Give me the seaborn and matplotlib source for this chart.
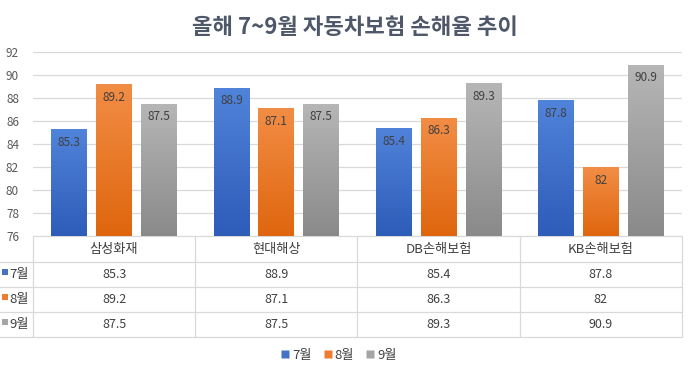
import numpy as np
import pandas as pd
import matplotlib
matplotlib.use("Agg")
import matplotlib.pyplot as plt
import seaborn as sns
from matplotlib.colors import LinearSegmentedColormap
from matplotlib.patches import Rectangle
from matplotlib.lines import Line2D

title = "올해 7~9월 자동차보험 손해율 추이"
companies = ["삼성화재", "현대해상", "DB손해보험", "KB손해보험"]
months = ["7월", "8월", "9월"]
jul = [85.3, 88.9, 85.4, 87.8]
aug = [89.2, 87.1, 86.3, 82]
sep = [87.5, 87.5, 89.3, 90.9]
y_ticks = [76, 78, 80, 82, 84, 86, 88, 90, 92]

base_colors = ["#4472C4", "#ED7D31", "#A5A5A5"]
grad_top = ["#5083DA", "#F28D45", "#B6B6B6"]
grad_bot = ["#2E5CB9", "#DF660E", "#8A8A8A"]

df = pd.DataFrame({
    "company": companies * 3,
    "month": [months[0]] * 4 + [months[1]] * 4 + [months[2]] * 4,
    "value": jul + aug + sep,
})

sns.set_theme(style="white")
plt.rcParams["font.family"] = ["Noto Sans CJK KR", "DejaVu Sans"]
plt.rcParams["axes.unicode_minus"] = False

W, H = 694, 376
fig = plt.figure(figsize=(W / 100, H / 100), dpi=100)
ax = fig.add_axes([33 / W, 1 - 236 / H, (682 - 33) / W, (236 - 52) / H])

sns.barplot(data=df, x="company", y="value", hue="month", order=companies,
            hue_order=months, palette=base_colors, width=0.83, gap=0.2,
            ax=ax, legend=False)

ax.set_ylim(y_ticks[0], y_ticks[-1])
ax.set_xlim(-0.5, len(companies) - 0.5)
ax.set_yticks(y_ticks)
ax.set_yticklabels([str(t) for t in y_ticks], fontsize=8.5, color="#595959")
ax.tick_params(axis="y", length=0, pad=10)
ax.set_xticks([])
ax.set_xlabel("")
ax.set_ylabel("")
ax.yaxis.grid(True, color="#D9D9D9", linewidth=0.9)
ax.set_axisbelow(True)
for s in ["top", "right", "left", "bottom"]:
    ax.spines[s].set_visible(False)

# gradient fills and value labels
for ci, cont in enumerate(ax.containers):
    cmap = LinearSegmentedColormap.from_list("g", [grad_bot[ci], grad_top[ci]])
    for patch in cont.patches:
        x0 = patch.get_x()
        w = patch.get_width()
        top = patch.get_height() + patch.get_y()
        y0 = max(ax.get_ylim()[0], patch.get_y())
        grad = np.linspace(0, 1, 100).reshape(-1, 1)
        im = ax.imshow(grad, cmap=cmap, aspect="auto", origin="lower",
                       extent=[x0, x0 + w, y0, top], zorder=3)
        im.set_clip_path(patch)
        patch.set_facecolor("none")
        patch.set_edgecolor("none")
        patch.set_zorder(3)
        txt = f"{top:g}"
        ax.annotate(txt, (x0 + w / 2, top), xytext=(0, -9.5),
                    textcoords="offset points", ha="center", va="center",
                    fontsize=8.5, color="#404040", zorder=5)
ax.set_xlim(-0.5, len(companies) - 0.5)
ax.set_ylim(y_ticks[0], y_ticks[-1])

# title
fig.text(355 / W, 1 - 27 / H, title, ha="center", va="center",
         fontsize=16, fontweight="bold", color="#4F5869")

# data table (overlay axes in pixel coordinates)
ov = fig.add_axes([0, 0, 1, 1], zorder=-1)
ov.set_xlim(0, W)
ov.set_ylim(H, 0)
ov.axis("off")
lc = "#D9D9D9"
left_px, right_px = 33, 682
rows_y = [236, 262, 287, 312, 337]
ov.plot([left_px, right_px], [rows_y[0], rows_y[0]], color=lc, lw=0.9)
for y in rows_y[1:]:
    ov.plot([0, right_px], [y, y], color=lc, lw=0.9)
to_px = lambda xd: ax.transData.transform((xd, 0))[0]
bounds = [to_px(i - 0.5) for i in range(len(companies) + 1)]
for b in bounds:
    ov.plot([b, b], [rows_y[0], rows_y[-1]], color=lc, lw=0.9)
centers = [to_px(i) for i in range(len(companies))]
hy = (rows_y[0] + rows_y[1]) / 2
for cx, name in zip(centers, companies):
    ov.text(cx, hy, name, ha="center", va="center", fontsize=9.5, color="#404040")
series = [jul, aug, sep]
for ri, (m, vals) in enumerate(zip(months, series)):
    yc = (rows_y[ri + 1] + rows_y[ri + 2]) / 2
    ov.add_patch(Rectangle((2, yc - 6), 6, 6, facecolor=base_colors[ri],
                           edgecolor="none"))
    ov.text(9, yc, m, ha="left", va="center", fontsize=9.5, color="#404040")
    for cx, v in zip(centers, vals):
        ov.text(cx, yc, f"{v:g}", ha="center", va="center", fontsize=9,
                color="#404040")

# legend
handles = [Line2D([0], [0], marker="s", linestyle="none", markersize=6,
                  markerfacecolor=c, markeredgecolor="none") for c in base_colors]
fig.legend(handles, months, loc="center", bbox_to_anchor=(339 / W, 1 - 355 / H),
           ncol=3, frameon=False, fontsize=9.5, handlelength=0.6,
           handletextpad=0.25, columnspacing=0.9, labelcolor="#404040")

fig.savefig("out.png", dpi=100)
